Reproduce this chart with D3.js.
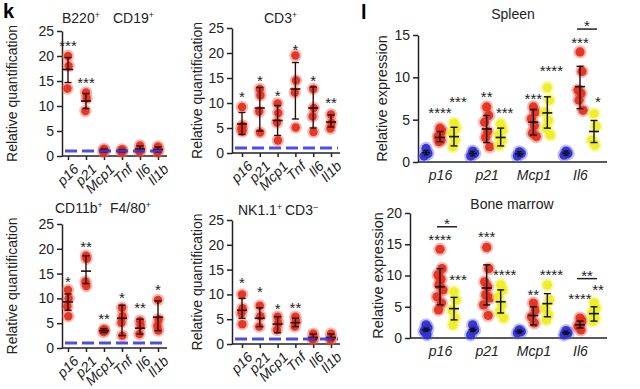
<!DOCTYPE html>
<html lang="en">
<head>
<meta charset="utf-8">
<title>Senescence markers</title>
<script src="https://d3js.org/d3.v7.min.js"></script>
<style>
  body { margin: 0; background: #fff; }
  svg { font-family: "Liberation Sans", Arial, sans-serif; }
  .axis path, .axis line { stroke: #222; stroke-width: 1.5; }
  .axis text { font-size: 14px; fill: #222; }
</style>
</head>
<body>
<div id="chart"></div>
<script>
"use strict"

// ---------- panel k data ----------
var kGenes = ["p16", "p21", "Mcp1", "Tnf", "Il6", "Il1b"];
var kTicks = [0, 5, 10, 15, 20, 25];
var kControl = 1;

var b220Points = [[20, 18, 13.5], [12.7, 11.5, 9], [1.4, 1.1, 0.8], [1.3, 1.0, 0.8], [2.1, 1.2, 0.9], [1.9, 1.2, 0.8]];
var b220Mean = [17.3, 11, 1.1, 1.0, 1.4, 1.3];
var b220Err = [[14.7, 19.7], [9.5, 12.5], [0.8, 1.4], [0.8, 1.3], [0.9, 2.0], [0.8, 1.8]];
var b220Stars = ["***", "***", "", "", "", ""];
var b220StarAt = [22.7, 15.2, 0, 0, 0, 0];

var cd3Points = [[9.2, 5.5, 4.8, 4.3], [12.8, 11.5, 8.3, 4.1], [9.9, 8, 6.1, 2.5], [19.5, 14.5, 12.1, 5.1], [12.8, 9, 7.3, 4.2], [7.7, 6, 4.9]];
var cd3Mean = [5.8, 9, 6.5, 12.8, 9, 6.2];
var cd3Err = [[3.7, 8.1], [4.4, 13.1], [3.5, 9.5], [6.8, 18.1], [5, 13.2], [5.2, 7.6]];
var cd3Stars = ["*", "*", "*", "*", "*", "**"];
var cd3StarAt = [11.8, 15, 12.1, 21.3, 15.1, 10.7];

var cd11Points = [[11.7, 10, 8.4, 6.4], [18.6, 18, 13.4, 12.5], [3.8, 3.5, 3.2], [8.1, 6.4, 5.1, 2.5], [5.5, 4.5, 2.8], [9.7, 5.8, 4.5, 3.5]];
var cd11Mean = [9.3, 15.5, 3.5, 6, 4, 6.2];
var cd11Err = [[7.6, 10.9], [13, 18.6], [3.1, 3.9], [2.5, 8.6], [2.8, 5.8], [3.5, 9.5]];
var cd11Stars = ["*", "**", "**", "*", "**", "*"];
var cd11StarAt = [14, 21, 6.4, 10.7, 8.6, 12.2];

var nkPoints = [[10, 7.2, 6.2, 4], [7.7, 5.6, 3.5], [5.5, 4.2, 2.8], [5.5, 4.6, 3.5], [2.1, 1.2, 0.9], [2.1, 1.2, 0.9]];
var nkMean = [6.8, 5.2, 4, 4.3, 1.3, 1.3];
var nkErr = [[5.2, 9.2], [3.5, 7.3], [2.3, 5.5], [3.5, 5.2], [0.9, 2], [0.9, 2]];
var nkStars = ["*", "*", "*", "**", "", ""];
var nkStarAt = [12.9, 11.1, 7.7, 7.9, 0, 0];

// ---------- panel l data ----------
var lGenes = ["p16", "p21", "Mcp1", "Il6"];
var lGroups = ["young", "old", "treated"];

var spleenTicks = [0, 5, 10, 15];
var spleenYoung = [[1.6, 1.0, 0.7], [1.3, 1.0, 0.7], [1.2, 1.0, 0.7], [1.3, 1.0, 0.8]];
var spleenOld = [[4, 3.6, 3, 2.6, 2.4], [6.5, 5.5, 4.7, 3.6, 2.9, 1.8], [6.5, 5.9, 5.1, 4.3, 3.4, 3], [13, 10.7, 8.5, 8.1, 7.3, 6.1]];
var spleenTreated = [[4.6, 4, 3.4, 2.6, 1.8], [4.5, 3.8, 3.2, 2.6, 2], [8.8, 7.3, 5.9, 4.9, 4, 3.2], [5.7, 4.2, 2.6, 2]];
var spleenOldMean = [2.9, 3.9, 4.7, 8.9];
var spleenOldErr = [[2.4, 3.6], [2.3, 5.5], [3.2, 6.2], [6.3, 11.3]];
var spleenTrMean = [3, 2.9, 5.8, 3.6];
var spleenTrErr = [[1.9, 4.1], [1.9, 4], [4, 7.7], [2.3, 4.9]];
var spleenOldStars = ["****", "**", "***", "***"];
var spleenOldStarAt = [6.1, 8, 7.8, 14.4];
var spleenTrStars = ["***", "***", "****", "*"];
var spleenTrStarAt = [7.4, 6.2, 11.1, 7.5];
var spleenBrackets = [{gene: "Il6", label: "*", at: 15.7}];

var boneTicks = [0, 5, 10, 15, 20];
var boneYoung = [[2.1, 1.6, 1.1, 0.5], [2.1, 1.3, 0.5], [1.3, 1.0, 0.8], [1.2, 0.8, 0.5]];
var boneOld = [[14.2, 11.1, 10.1, 9.4, 8.5, 7.7, 6.6, 5.6, 4.5], [14.5, 11.1, 9, 8.2, 6.9, 6.4, 5.3, 3.6], [5.6, 4.5, 3.4, 2.4], [3.2, 2.7, 1.9, 1.3]];
var boneTreated = [[7.4, 6.1, 4.5, 3.2, 2.1], [8.5, 7.7, 6.6, 5.3, 4.2, 3.2], [8.5, 6.1, 4.8, 3.7, 2.9], [5.6, 4.8, 4, 3.2, 2.7]];
var boneOldMean = [8.2, 8, 3.6, 2.1];
var boneOldErr = [[5.3, 11.1], [5.3, 11.7], [2.1, 5], [1.6, 2.7]];
var boneTrMean = [4.7, 5.8, 5.5, 3.9];
var boneTrErr = [[2.9, 6.5], [4, 7.7], [3.4, 7.1], [2.7, 5]];
var boneOldStars = ["****", "***", "**", "****"];
var boneOldStarAt = [16.2, 16.7, 7.4, 6.7];
var boneTrStars = ["***", "****", "****", "**"];
var boneTrStarAt = [9.7, 10.6, 10.5, 8.2];
var boneBrackets = [{gene: "p16", label: "*", at: 17.8}, {gene: "Il6", label: "**", at: 9.5}];

// ---------- drawing ----------
var W = 640, H = 389;
var RED = "#e22c1a", RED_HALO = "rgba(238,85,72,0.42)";
var BLUE = "#2e2ed0", BLUE_HALO = "rgba(90,90,235,0.38)";
var YEL = "#eded22", YEL_HALO = "rgba(245,245,100,0.6)";

var svg = d3.select("#chart").append("svg")
  .attr("width", W).attr("height", H);

function jitter(i) {
  var pat = [0, 2, -2, 1, -1, 3, -3, 1.5, -1.5];
  return pat[i % pat.length];
}

function dots(g, cx, vals, y, r, fill, halo, spread) {
  vals.forEach(function(v, i) {
    var x = cx + jitter(i) * spread;
    g.append("circle").attr("cx", x).attr("cy", y(v)).attr("r", r + 2).attr("fill", halo);
  });
  vals.forEach(function(v, i) {
    var x = cx + jitter(i) * spread;
    g.append("circle").attr("cx", x).attr("cy", y(v)).attr("r", r).attr("fill", fill).attr("fill-opacity", 0.92);
  });
}

function errBar(g, cx, mean, err, y, capW, meanW, col) {
  g.append("line").attr("x1", cx).attr("x2", cx).attr("y1", y(err[0])).attr("y2", y(err[1]))
    .attr("stroke", col).attr("stroke-width", 1.4);
  [err[0], err[1]].forEach(function(v) {
    g.append("line").attr("x1", cx - capW / 2).attr("x2", cx + capW / 2).attr("y1", y(v)).attr("y2", y(v))
      .attr("stroke", col).attr("stroke-width", 1.4);
  });
  g.append("line").attr("x1", cx - meanW / 2).attr("x2", cx + meanW / 2).attr("y1", y(mean)).attr("y2", y(mean))
    .attr("stroke", col).attr("stroke-width", 1.6);
}

function stars(g, cx, cy, label) {
  if (!label) return;
  g.append("text").attr("x", cx).attr("y", cy + 8)
    .attr("text-anchor", "middle").attr("font-size", 15).attr("fill", "#222")
    .text(label);
}

function titleText(x, y, parts, size) {
  var t = svg.append("text").attr("x", x).attr("y", y).attr("font-size", size).attr("fill", "#222");
  parts.forEach(function(p) {
    t.append("tspan").text(p[0]);
    if (p[1]) t.append("tspan").attr("font-size", size * 0.62).attr("dy", -5).text(p[1]);
    if (p[1]) t.append("tspan").attr("dy", 5).text(p[2] || "");
  });
  return t;
}

function panelK(cfg) {
  var y = d3.scaleLinear().domain([0, 25]).range([cfg.y0, cfg.yTop]);
  var x = d3.scalePoint().domain(kGenes).range(cfg.cats);
  var g = svg.append("g");

  g.append("g").attr("class", "axis").attr("transform", "translate(" + cfg.ax + ",0)")
    .call(d3.axisLeft(y).tickValues(kTicks).tickSize(5).tickPadding(3).tickSizeOuter(0))
    .selectAll("text").attr("font-size", 14.5);

  var xa = g.append("g").attr("class", "axis").attr("transform", "translate(0," + cfg.y0 + ")")
    .call(d3.axisBottom(x).tickSize(4).tickSizeOuter(0));
  xa.select(".domain").attr("d", "M" + cfg.ax + ",0H" + cfg.xEnd);
  xa.selectAll("text")
    .attr("font-style", "italic")
    .attr("font-size", 14)
    .attr("text-anchor", "end")
    .attr("dy", 0)
    .attr("transform", "translate(6,9) rotate(-45)");

  kGenes.forEach(function(gene, i) {
    var cx = x(gene);
    dots(g, cx, cfg.points[i], y, 4.2, RED, RED_HALO, 0.3);
    errBar(g, cx, cfg.mean[i], cfg.err[i], y, 7, 10, "#2a0d0a");
    stars(g, cx, y(cfg.starAt[i]), cfg.stars[i]);
  });

  g.append("line")
    .attr("x1", cfg.ax + 3).attr("x2", cfg.xEnd - 2)
    .attr("y1", y(kControl)).attr("y2", y(kControl))
    .attr("stroke", "#3a3ae0").attr("stroke-width", 3)
    .attr("stroke-opacity", 0.9)
    .attr("stroke-dasharray", "12,5");

  svg.append("text")
    .attr("transform", "translate(" + cfg.labX + "," + ((cfg.y0 + cfg.yTop) / 2) + ") rotate(-90)")
    .attr("text-anchor", "middle").attr("dy", "0.35em")
    .attr("font-size", 14).attr("fill", "#222")
    .text("Relative quantification");
}

panelK({ax: 62, xEnd: 167, yTop: 31, y0: 156, cats: [68, 158], labX: 12,
  points: b220Points, mean: b220Mean, err: b220Err, stars: b220Stars, starAt: b220StarAt});
panelK({ax: 232, xEnd: 340, yTop: 28, y0: 153, cats: [242, 331], labX: 197,
  points: cd3Points, mean: cd3Mean, err: cd3Err, stars: cd3Stars, starAt: cd3StarAt});
panelK({ax: 62, xEnd: 167, yTop: 224, y0: 348, cats: [68, 158], labX: 12,
  points: cd11Points, mean: cd11Mean, err: cd11Err, stars: cd11Stars, starAt: cd11StarAt});
panelK({ax: 232, xEnd: 340, yTop: 220, y0: 344, cats: [242, 331], labX: 197,
  points: nkPoints, mean: nkMean, err: nkErr, stars: nkStars, starAt: nkStarAt});

titleText(62, 23, [["B220", "+", ""]], 14);
titleText(113, 23, [["CD19", "+", ""]], 14);
titleText(264, 23, [["CD3", "+", ""]], 14);
titleText(55, 213, [["CD11b", "+", ""]], 14);
titleText(110, 213, [["F4/80", "+", ""]], 14);
titleText(238, 215, [["NK1.1", "+", ""]], 14);
titleText(285, 215, [["CD3", "\u2212", ""]], 14);

function panelL(cfg) {
  var y = d3.scaleLinear().domain([0, cfg.max]).range([cfg.y0, cfg.yTop]);
  var x = d3.scalePoint().domain(lGenes).range(cfg.cats);
  var sub = d3.scalePoint().domain(lGroups).range([-14, 14]);
  var g = svg.append("g");

  g.append("g").attr("class", "axis").attr("transform", "translate(" + cfg.ax + ",0)")
    .call(d3.axisLeft(y).tickValues(cfg.ticks).tickSize(5).tickPadding(3).tickSizeOuter(0))
    .selectAll("text").attr("font-size", 15);

  var xa = g.append("g").attr("class", "axis").attr("transform", "translate(0," + cfg.y0 + ")")
    .call(d3.axisBottom(x).tickSize(0).tickSizeOuter(0).tickPadding(8));
  xa.select(".domain").attr("d", "M" + cfg.ax + ",0H" + cfg.xEnd);
  xa.selectAll("text").attr("font-style", "italic").attr("font-size", 15);

  lGenes.forEach(function(gene, i) {
    var c = x(gene);
    dots(g, c + sub("young"), cfg.young[i], y, 4.6, BLUE, BLUE_HALO, 1);
    dots(g, c + sub("old"), cfg.old[i], y, 4.6, RED, RED_HALO, 1);
    dots(g, c + sub("treated"), cfg.treated[i], y, 4.6, YEL, YEL_HALO, 1);
    var ym = d3.mean(cfg.young[i]);
    errBar(g, c + sub("young"), ym, [ym - 0.25, ym + 0.25], y, 5, 8, "#111");
    errBar(g, c + sub("old"), cfg.oldMean[i], cfg.oldErr[i], y, 7, 10, "#111");
    errBar(g, c + sub("treated"), cfg.trMean[i], cfg.trErr[i], y, 7, 10, "#111");
    stars(g, c + sub("old"), y(cfg.oldStarAt[i]), cfg.oldStars[i]);
    stars(g, c + sub("treated") + 4, y(cfg.trStarAt[i]), cfg.trStars[i]);
  });

  cfg.brackets.forEach(function(b) {
    var c = x(b.gene);
    var x1 = c + sub("old") - 3, x2 = c + sub("treated") + 3;
    g.append("line").attr("x1", x1).attr("x2", x2).attr("y1", y(b.at)).attr("y2", y(b.at))
      .attr("stroke", "#222").attr("stroke-width", 1.5);
    stars(g, (x1 + x2) / 2, y(b.at) - 6, b.label);
  });

  svg.append("text")
    .attr("transform", "translate(" + cfg.labX + "," + ((cfg.y0 + cfg.yTop) / 2) + ") rotate(-90)")
    .attr("text-anchor", "middle").attr("dy", "0.35em")
    .attr("font-size", 14.5).attr("fill", "#222")
    .text("Relative expression");

  svg.append("text").attr("x", cfg.titleX).attr("y", cfg.titleY)
    .attr("text-anchor", "middle").attr("font-size", 14).attr("fill", "#222")
    .text(cfg.title);
}

panelL({ax: 418, xEnd: 607, yTop: 35, y0: 162, max: 15, ticks: spleenTicks, cats: [440, 580], labX: 382,
  young: spleenYoung, old: spleenOld, treated: spleenTreated,
  oldMean: spleenOldMean, oldErr: spleenOldErr, trMean: spleenTrMean, trErr: spleenTrErr,
  oldStars: spleenOldStars, oldStarAt: spleenOldStarAt, trStars: spleenTrStars, trStarAt: spleenTrStarAt,
  brackets: spleenBrackets, title: "Spleen", titleX: 513, titleY: 19});
panelL({ax: 410, xEnd: 607, yTop: 213, y0: 338, max: 20, ticks: boneTicks, cats: [440, 580], labX: 378,
  young: boneYoung, old: boneOld, treated: boneTreated,
  oldMean: boneOldMean, oldErr: boneOldErr, trMean: boneTrMean, trErr: boneTrErr,
  oldStars: boneOldStars, oldStarAt: boneOldStarAt, trStars: boneTrStars, trStarAt: boneTrStarAt,
  brackets: boneBrackets, title: "Bone marrow", titleX: 512, titleY: 209});

// panel letters
svg.append("text").attr("x", 3).attr("y", 18).attr("font-size", 20).attr("font-weight", "bold").text("k");
svg.append("text").attr("x", 361).attr("y", 19).attr("font-size", 20).attr("font-weight", "bold").text("l");
</script>
</body>
</html>
